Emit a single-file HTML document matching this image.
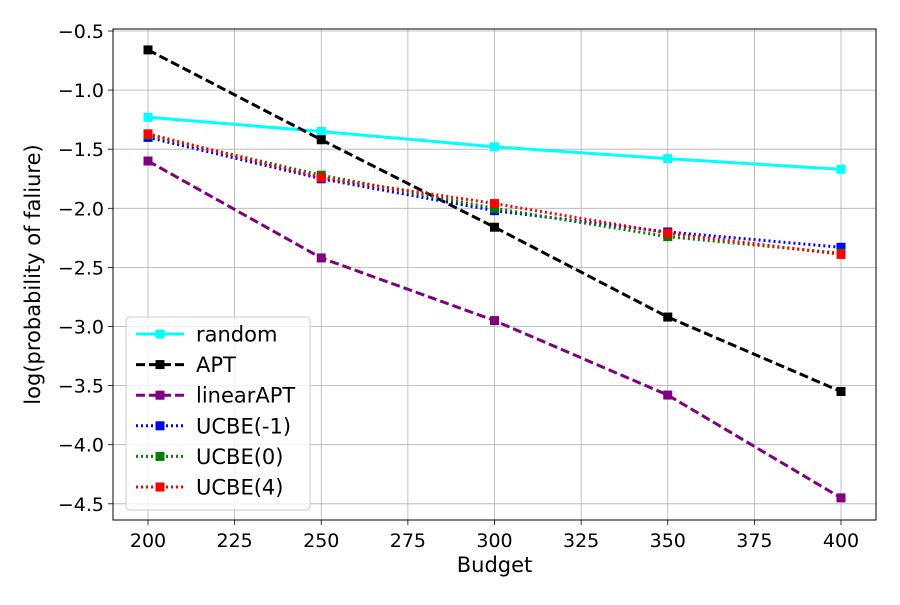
<!DOCTYPE html>
<html><head><meta charset="utf-8"><style>
body{margin:0;background:#fff;}
svg text{font-family:"DejaVu Sans","Liberation Sans",sans-serif;}
</style></head><body>
<svg id="chart" width="900" height="600" xmlns="http://www.w3.org/2000/svg">
<rect width="900" height="600" fill="#fff"/>
<g id="grid"></g><g id="series"></g><g id="axes"></g><g id="legend"></g>
</svg>
<script>
const budgets=[200,250,300,350,400];
const randomVals=[-1.23,-1.35,-1.48,-1.58,-1.67];
const aptVals=[-0.66,-1.42,-2.16,-2.92,-3.55];
const linearAptVals=[-1.60,-2.42,-2.95,-3.58,-4.45];
const ucbeM1Vals=[-1.40,-1.75,-2.02,-2.20,-2.33];
const ucbe0Vals=[-1.38,-1.72,-2.00,-2.24,-2.38];
const ucbe4Vals=[-1.37,-1.74,-1.96,-2.21,-2.39];
const xTicks=[200,225,250,275,300,325,350,375,400];
const yTicks=[-0.5,-1.0,-1.5,-2.0,-2.5,-3.0,-3.5,-4.0,-4.5];
const seriesNames=["random","APT","linearAPT","UCBE(-1)","UCBE(0)","UCBE(4)"];

const L=113,R=876,T=29,B=520;
const xs=v=>148+(v-200)*(841-148)/200;
const ys=v=>31+(-0.5-v)*(59.1/0.5);
const NS="http://www.w3.org/2000/svg";
function mk(tag,attrs,parent){const e=document.createElementNS(NS,tag);for(const k in attrs)e.setAttribute(k,attrs[k]);parent.appendChild(e);return e;}
const grid=document.getElementById('grid'),axes=document.getElementById('axes'),ser=document.getElementById('series'),leg=document.getElementById('legend');
xTicks.forEach(t=>{const x=xs(t);
 const g=mk('line',{x1:x,x2:x,y1:T,y2:B,stroke:'#b0b0b0','stroke-width':0.8},grid);
 
 mk('line',{x1:x,x2:x,y1:B,y2:B+5,stroke:'#000','stroke-width':0.8},axes);
 const tx=mk('text',{x:x,y:B+27,'text-anchor':'middle','font-size':19},axes);tx.textContent=t;
 
});
yTicks.forEach(t=>{const y=ys(t);
 const g=mk('line',{x1:L,x2:R,y1:y,y2:y,stroke:'#b0b0b0','stroke-width':0.8},grid);
 
 mk('line',{x1:L-5,x2:L,y1:y,y2:y,stroke:'#000','stroke-width':0.8},axes);
 const tx=mk('text',{x:L-9,y:y+7,'text-anchor':'end','font-size':19},axes);tx.textContent=t.toFixed(1).replace('-','\u2212');
 
});
const frame=mk('rect',{x:L,y:T,width:R-L,height:B-T,fill:'none',stroke:'#000','stroke-width':1},axes);

const xl=mk('text',{x:(L+R)/2,y:572,'text-anchor':'middle','font-size':21},axes);xl.textContent='Budget';

const yl=mk('text',{x:0,y:0,'text-anchor':'middle','font-size':21,transform:'translate(40,'+((T+B)/2)+') rotate(-90)'},axes);yl.textContent='log(probability of faliure)';


const data=[randomVals,aptVals,linearAptVals,ucbeM1Vals,ucbe0Vals,ucbe4Vals];
const colors=['#00ffff','#000000','#800080','#0000ff','#008000','#ff0000'];
const dashes=['','9,4','9,4','2,3','2,3','2,3'];
const names=['series-random','series-apt','series-linear-apt','series-ucbe-m1','series-ucbe-0','series-ucbe-4'];
data.forEach((vals,i)=>{
 const g=mk('g',{},ser);
 
 const pts=vals.map((v,j)=>xs(budgets[j])+','+ys(v)).join(' ');
 const pl=mk('polyline',{points:pts,fill:'none',stroke:colors[i],'stroke-width':3,'stroke-dasharray':dashes[i]},g);
 
 vals.forEach((v,j)=>{const m=mk('rect',{x:xs(budgets[j])-4.5,y:ys(v)-4.5,width:9,height:9,fill:colors[i]},g);
  });
});
const lb=mk('rect',{x:126,y:317,width:184,height:193,rx:4,fill:'#fff','fill-opacity':0.8,stroke:'#ccc'},leg);

seriesNames.forEach((n,i)=>{const y=334+i*30.6;
 const g=mk('g',{},leg);
 mk('line',{x1:136,x2:184,y1:y,y2:y,stroke:colors[i],'stroke-width':3,'stroke-dasharray':dashes[i]},g);
 mk('rect',{x:155.5,y:y-4.5,width:9,height:9,fill:colors[i]},g);
 const t=mk('text',{x:196,y:y+7.5,'font-size':21},g);t.textContent=n;
});
</script>
</body></html>
